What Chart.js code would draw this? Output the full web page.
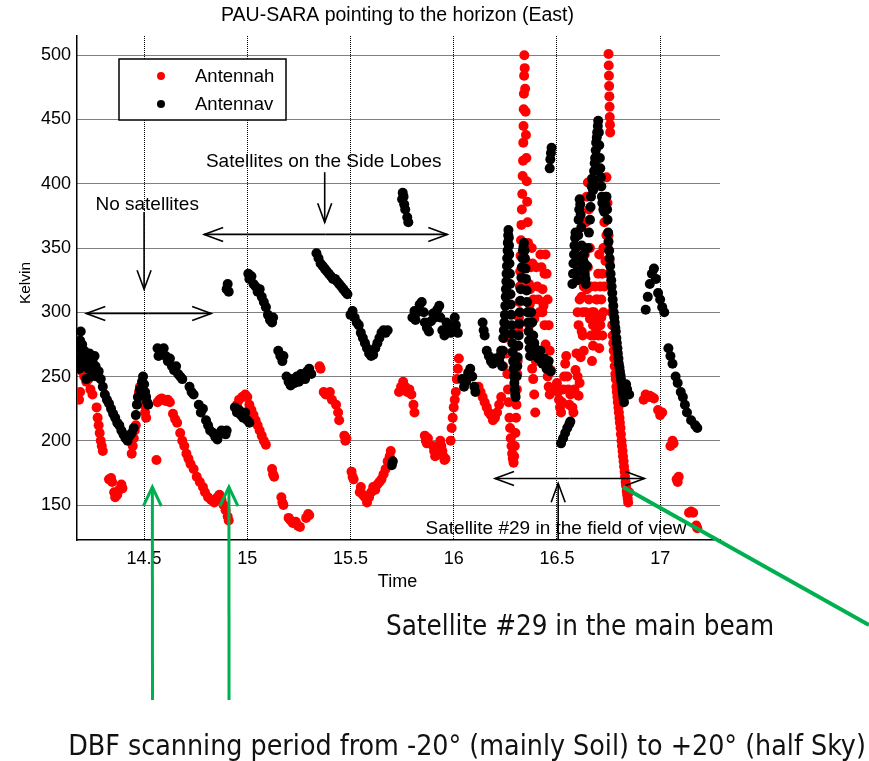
<!DOCTYPE html>
<html>
<head>
<meta charset="utf-8">
<script src="https://cdn.jsdelivr.net/npm/chart.js@4.4.0/dist/chart.umd.min.js"></script>
<style>
  html, body { margin: 0; padding: 0; background: #fff; }
</style>
</head>
<body>
<canvas id="grafico" width="869" height="761"></canvas>
<script>
// tempo (horas) e temperatura (Kelvin)
const antennah = [
  [14.185,232],[14.19,238],[14.2,254],[14.205,258],[14.21,250],[14.22,246],[14.23,248],[14.24,240],[14.25,236],
  [14.27,226],[14.275,218],[14.28,212],[14.285,206],[14.29,200],[14.295,196],[14.3,192],
  [14.33,170],[14.34,171],[14.345,168],[14.355,160],[14.36,156],[14.37,158],[14.38,162],[14.39,166],[14.395,163],
  [14.44,190],[14.445,196],[14.45,202],[14.455,208],[14.46,212],[14.475,238],[14.48,242],[14.49,234],[14.5,228],[14.505,222],[14.51,218],
  [14.56,185],
  [14.565,230],[14.575,232],[14.585,233],[14.595,232],[14.605,231],[14.615,232],[14.625,230],[14.64,221],[14.65,217],[14.66,214],
  [14.675,206],[14.685,200],[14.695,196],[14.705,190],[14.715,186],[14.725,182],[14.74,178],[14.755,172],[14.77,168],[14.785,164],
  [14.795,160],[14.81,156],[14.825,154],[14.84,152],[14.855,156],[14.865,158],[14.875,154],[14.885,150],[14.895,146],[14.905,141],[14.91,138],
  [14.95,228],[14.96,232],[14.975,234],[14.99,236],[15.0,234],[15.01,228],[15.02,224],[15.03,220],[15.04,216],[15.05,212],[15.06,208],
  [15.07,204],[15.08,200],[15.09,197],
  [15.12,178],[15.125,174],[15.13,172],[15.165,156],[15.17,152],[15.175,150],[15.2,140],[15.21,138],[15.22,136],[15.235,137],
  [15.245,134],[15.255,133],[15.285,140],[15.295,143],[15.3,142],
  [15.35,258],[15.355,256],[15.37,238],[15.38,236],[15.39,236],[15.4,238],[15.41,232],[15.43,228],[15.44,222],[15.445,216],
  [15.47,204],[15.475,200],[15.48,202],[15.505,176],[15.51,172],[15.515,170],
  [15.545,160],[15.55,164],[15.56,158],[15.57,156],[15.58,152],[15.59,156],[15.6,160],[15.61,164],[15.62,162],[15.63,166],
  [15.64,168],[15.65,170],[15.66,174],[15.67,178],[15.68,184],[15.69,188],[15.695,192],
  [15.735,238],[15.745,242],[15.755,246],[15.765,242],[15.775,238],[15.785,240],[15.795,236],[15.805,228],[15.81,222],
  [15.86,204],[15.865,200],[15.87,198],[15.875,202],[15.9,196],[15.905,192],[15.91,188],[15.935,200],[15.94,196],[15.945,192],
  [15.95,188],[15.955,185],[15.96,186],
  [15.985,200],[15.99,210],[15.995,218],[16.0,226],[16.005,232],[16.01,238],[16.015,248],[16.02,256],[16.025,264],
  [16.12,242],[16.13,238],[16.14,234],[16.15,230],[16.16,226],[16.17,222],[16.18,220],[16.19,216],[16.2,218],[16.21,222],
  [16.22,228],[16.23,234],
  [16.24,258],[16.243,268],[16.246,280],[16.25,290],[16.253,282],[16.256,268],[16.26,252],[16.263,240],[16.266,230],
  [16.27,218],[16.273,210],[16.276,202],[16.28,196],[16.283,190],[16.286,186],[16.29,183],[16.293,188],[16.296,196],
  [16.299,206],[16.302,218],[16.304,228],[16.306,240],[16.308,252],[16.31,262],[16.312,274],[16.314,286],[16.316,296],
  [16.318,308],[16.32,320],[16.322,332],[16.324,344],[16.326,356],[16.328,368],[16.33,380],[16.332,392],[16.334,406],
  [16.336,418],[16.337,432],[16.338,445],[16.339,458],[16.34,470],[16.341,484],[16.342,500],[16.344,490],[16.346,474],
  [16.348,456],[16.35,438],[16.352,420],[16.354,402],[16.356,386],[16.358,370],[16.36,354],[16.362,338],[16.365,322],
  [16.368,306],[16.371,292],[16.374,278],[16.377,266],[16.38,256],[16.385,248],[16.39,236],[16.395,222],
  [16.362,300],[16.366,290],[16.37,318],[16.374,335],[16.378,350],[16.382,338],[16.386,310],[16.39,295],[16.394,270],[16.398,262],
  [16.4,335],[16.405,320],[16.41,310],[16.415,300],[16.42,345],[16.425,335],[16.43,318],[16.435,305],[16.44,290],
  [16.445,275],[16.45,262],[16.455,250],[16.46,242],[16.465,236],[16.43,300],[16.44,330],[16.445,345],[16.45,330],
  [16.455,310],[16.46,290],[16.465,270],[16.47,255],[16.475,240],
  [16.5,245],[16.505,238],[16.51,232],[16.515,226],[16.52,222],[16.525,230],[16.53,240],[16.535,250],[16.54,260],
  [16.545,266],[16.55,250],[16.555,240],[16.56,228],[16.565,236],
  [16.575,226],[16.58,222],[16.585,240],[16.59,255],[16.595,268],[16.6,250],[16.605,235],[16.61,245],[16.615,265],[16.62,285],
  [16.625,300],[16.63,320],[16.635,345],[16.64,370],[16.645,390],[16.65,401],[16.655,380],[16.66,350],[16.665,320],
  [16.67,300],[16.675,290],[16.68,300],[16.685,320],[16.69,310],[16.695,295],[16.7,282],[16.705,272],[16.71,290],
  [16.715,310],[16.72,330],[16.725,350],[16.73,370],[16.735,390],[16.74,405],[16.745,385],[16.75,360],[16.755,340],
  [16.6,300],[16.605,290],[16.61,310],[16.615,328],[16.62,312],[16.625,282],[16.63,270],[16.64,300],[16.645,318],
  [16.65,335],[16.655,310],[16.66,295],[16.665,282],[16.67,262],[16.675,274],[16.68,282],[16.685,290],[16.69,285],
  [16.695,310],[16.7,330],[16.705,345],[16.71,320],[16.715,296],[16.72,282],[16.725,300],[16.73,320],[16.735,340],
  [16.74,360],[16.745,352],[16.75,330],
  [16.75,501],[16.751,492],[16.752,484],[16.753,476],[16.754,468],[16.755,460],[16.756,452],[16.757,446],[16.758,440],
  [16.762,320],[16.765,300],[16.768,290],[16.77,282],[16.773,276],[16.775,270],[16.778,264],[16.78,258],[16.783,252],
  [16.785,248],[16.788,242],[16.79,238],[16.793,234],[16.795,230],[16.798,226],[16.8,222],[16.803,218],[16.805,214],
  [16.808,210],[16.81,205],[16.813,200],[16.815,196],[16.818,192],[16.82,188],[16.823,184],[16.825,180],[16.828,176],
  [16.83,172],[16.833,168],[16.835,165],[16.838,161],[16.84,158],[16.843,155],[16.845,152],[16.85,160],
  [16.92,232],[16.93,236],[16.94,234],[16.95,235],[16.96,234],[16.97,233],[16.99,224],[17.0,220],[17.01,222],
  [17.05,196],[17.06,200],[17.065,198],[17.08,170],[17.085,168],[17.09,172],
  [17.14,144],[17.15,145],[17.16,144],[17.175,134],[17.18,132]
];

const antennav = [
  [14.18,262],[14.183,272],[14.186,256],[14.19,278],[14.193,285],[14.197,266],[14.2,275],[14.205,258],[14.21,270],
  [14.215,262],[14.22,248],[14.225,264],[14.23,256],[14.235,268],[14.24,260],[14.245,250],[14.25,262],[14.255,254],
  [14.26,266],[14.265,258],[14.27,250],[14.28,254],[14.29,248],[14.3,242],[14.31,236],[14.32,232],[14.33,229],
  [14.34,225],[14.35,221],[14.36,218],[14.37,214],[14.38,212],[14.39,208],[14.4,205],[14.41,202],[14.42,200],
  [14.43,204],[14.44,206],[14.45,210],
  [14.46,220],[14.465,228],[14.47,234],[14.48,240],[14.49,246],[14.495,250],[14.5,244],[14.505,238],[14.51,234],[14.515,230],[14.52,228],
  [14.565,272],[14.57,266],[14.575,270],[14.585,268],[14.595,272],[14.605,266],[14.615,262],[14.625,264],[14.635,258],
  [14.645,255],[14.655,258],[14.665,252],[14.675,250],[14.685,248],[14.72,242],[14.73,238],[14.74,236],[14.765,228],
  [14.775,222],[14.785,225],[14.8,216],[14.81,212],[14.82,208],[14.835,206],[14.845,203],[14.855,201],[14.865,205],
  [14.875,208],[14.885,206],[14.895,205],[14.9,208],
  [14.9,318],[14.905,322],[14.91,316],
  [14.94,226],[14.95,222],[14.96,224],[14.97,220],[14.98,218],[14.99,222],[15.0,216],[15.01,214],
  [15.005,330],[15.01,326],[15.02,328],[15.03,322],[15.04,320],[15.05,316],[15.06,318],[15.07,312],[15.08,308],
  [15.09,304],[15.1,298],[15.11,294],[15.12,292],[15.125,296],
  [15.15,270],[15.16,266],[15.17,262],[15.175,266],
  [15.19,250],[15.2,246],[15.21,243],[15.22,248],[15.23,245],[15.24,250],[15.25,246],[15.26,252],[15.28,248],
  [15.29,254],[15.3,256],[15.31,252],
  [15.335,346],[15.345,342],[15.355,338],[15.365,336],[15.375,334],[15.385,332],[15.395,330],[15.405,328],[15.415,326],
  [15.425,326],[15.435,324],[15.445,322],[15.455,320],[15.465,318],[15.475,316],[15.485,314],
  [15.5,298],[15.51,301],[15.52,296],[15.53,292],[15.54,290],[15.55,284],[15.56,280],[15.57,276],[15.58,272],
  [15.59,268],[15.6,266],[15.61,267],[15.62,272],[15.63,276],[15.64,280],[15.65,284],[15.66,286],[15.67,284],[15.68,286],
  [15.7,181],[15.705,184],
  [15.75,388],[15.753,393],[15.757,390],[15.76,384],[15.765,380],[15.775,374],[15.78,370],
  [15.8,296],[15.81,301],[15.815,294],[15.825,300],[15.835,306],[15.845,308],[15.855,300],[15.86,292],[15.87,288],
  [15.88,285],[15.89,293],[15.9,299],[15.91,296],[15.92,302],[15.93,305],[15.935,296],[15.945,286],[15.955,282],
  [15.965,292],[15.975,290],[15.985,284],[15.995,288],[16.005,296],[16.01,290],[16.02,284],
  [16.04,248],[16.05,242],[16.06,246],[16.07,253],[16.08,256],[16.09,250],[16.1,242],[16.105,238],
  [16.14,292],[16.145,286],[16.15,282],[16.16,270],[16.17,266],[16.18,262],[16.19,260],[16.2,264],
  [16.22,262],[16.225,266],[16.23,270],[16.235,258],[16.238,270],[16.24,280],[16.243,286],[16.245,292],[16.248,298],
  [16.25,305],[16.252,312],[16.253,318],[16.255,324],[16.256,330],[16.258,336],[16.259,342],[16.261,348],[16.262,354],
  [16.264,360],[16.265,364],[16.267,358],[16.268,352],[16.269,345],[16.27,338],[16.272,330],[16.273,322],[16.275,314],
  [16.276,306],[16.278,298],[16.28,290],[16.282,283],[16.284,276],[16.286,269],[16.288,262],[16.29,256],[16.292,250],
  [16.294,245],[16.296,240],[16.298,236],[16.3,234],
  [16.305,250],[16.308,258],[16.31,265],[16.313,274],[16.315,282],[16.318,291],[16.32,300],[16.323,309],[16.325,318],
  [16.328,327],[16.33,335],[16.333,342],[16.335,348],[16.338,351],[16.34,354],[16.343,348],[16.345,342],[16.348,334],
  [16.35,326],[16.353,317],[16.355,308],[16.358,300],[16.36,292],[16.363,285],[16.365,278],[16.368,272],[16.37,266],
  [16.375,300],[16.38,292],[16.385,282],[16.39,276],[16.395,272],[16.4,270],[16.405,266],[16.41,264],[16.415,266],
  [16.42,270],[16.425,264],[16.43,260],[16.435,262],[16.44,264],[16.445,260],[16.45,256],[16.455,258],[16.46,262],[16.47,254],
  [16.465,412],[16.468,419],[16.471,424],[16.474,428],
  [16.52,198],[16.53,202],[16.54,206],[16.55,210],[16.56,213],[16.565,215],
  [16.575,322],[16.578,330],[16.58,338],[16.583,345],[16.585,352],[16.588,358],[16.59,362],[16.593,350],[16.595,340],
  [16.598,332],[16.6,325],[16.603,360],[16.605,372],[16.608,380],[16.61,388],[16.613,384],[16.615,376],[16.618,366],
  [16.62,352],[16.623,344],[16.625,336],[16.628,340],[16.63,345],[16.633,338],[16.635,330],[16.638,326],[16.64,322],
  [16.645,336],[16.65,350],[16.655,362],[16.66,372],[16.663,382],[16.665,390],[16.668,398],[16.67,404],[16.673,398],
  [16.675,395],[16.678,402],[16.68,410],[16.683,416],[16.685,420],[16.688,426],[16.69,432],[16.693,436],[16.695,440],
  [16.698,445],[16.7,449],[16.703,440],[16.705,430],[16.708,420],[16.71,412],[16.713,405],[16.715,398],[16.718,390],
  [16.72,385],[16.725,380],[16.73,378],[16.735,384],[16.74,390],[16.743,380],[16.745,372],[16.748,362],[16.75,355],
  [16.753,348],[16.755,342],[16.758,336],[16.76,330],[16.763,325],[16.765,320],[16.768,315],[16.77,310],[16.773,305],
  [16.775,300],[16.778,296],[16.78,292],[16.783,288],[16.785,285],[16.788,280],[16.79,276],[16.793,272],[16.795,268],
  [16.798,264],[16.8,260],[16.803,257],[16.805,254],[16.808,251],[16.81,248],[16.813,245],[16.815,242],[16.818,239],
  [16.82,236],[16.823,233],[16.825,230],[16.83,238],[16.835,244],[16.84,240],[16.85,236],
  [16.93,302],[16.94,312],[16.95,322],[16.96,330],[16.97,334],[16.98,326],[16.99,315],[17.0,310],[17.01,304],[17.02,300],
  [17.04,272],[17.05,266],[17.06,260],[17.075,250],[17.085,245],[17.1,238],[17.11,234],[17.12,228],[17.13,222],
  [17.15,216],[17.17,212],[17.18,210]
];

const ticksTempo = [14.5, 15, 15.5, 16, 16.5, 17];
const ticksKelvin = [150, 200, 250, 300, 350, 400, 450, 500];

const titulo = "PAU-SARA pointing to the horizon (East)";
const verde = "#00b050";

function seta(ctx, x1, y1, x2, y2, comp, meia) {
    const ang = Math.atan2(y2 - y1, x2 - x1);
    ctx.beginPath();
    ctx.moveTo(x1, y1);
    ctx.lineTo(x2, y2);
    ctx.stroke();
    ctx.beginPath();
    ctx.moveTo(x2 - comp * Math.cos(ang) + meia * Math.sin(ang), y2 - comp * Math.sin(ang) - meia * Math.cos(ang));
    ctx.lineTo(x2, y2);
    ctx.lineTo(x2 - comp * Math.cos(ang) - meia * Math.sin(ang), y2 - comp * Math.sin(ang) + meia * Math.cos(ang));
    ctx.stroke();
}

const anotacoes = {
    id: "anotacoes",
    afterDraw(chart) {
        const ctx = chart.ctx;
        const sx = chart.scales.x, sy = chart.scales.y;
        const px = (v) => sx.getPixelForValue(v);
        const py = (v) => sy.getPixelForValue(v);
        const fonte = "Liberation Sans, Arial, sans-serif";

        ctx.save();
        ctx.fillStyle = "#000";
        ctx.textAlign = "center";
        ctx.textBaseline = "middle";

        ctx.font = "19.5px " + fonte;
        ctx.fillText(titulo, 397.5, 16);
        ctx.font = "18px " + fonte;
        ctx.fillText("Time", 397.5, 582);
        ctx.save();
        ctx.translate(26, 283);
        ctx.rotate(-Math.PI / 2);
        ctx.font = "15.5px " + fonte;
        ctx.fillText("Kelvin", 0, 0);
        ctx.restore();

        // legenda
        const ds = chart.data.datasets;
        ctx.fillStyle = "#fff";
        ctx.fillRect(119, 59, 167, 61);
        ctx.strokeStyle = "#000";
        ctx.lineWidth = 1.5;
        ctx.strokeRect(119, 59, 167, 61);
        ctx.font = "18.5px " + fonte;
        ctx.textAlign = "left";
        ds.forEach((d, i) => {
            const yy = 76 + i * 28;
            ctx.fillStyle = d.backgroundColor;
            ctx.beginPath();
            ctx.arc(161, yy, 4, 0, Math.PI * 2);
            ctx.fill();
            ctx.fillStyle = "#000";
            ctx.fillText(d.label, 195, yy + 1);
        });

        // textos e setas pretas
        ctx.font = "19px " + fonte;
        ctx.textAlign = "center";
        ctx.fillText("Satellites on the Side Lobes", px(15.37), py(417));
        ctx.fillText("No satellites", px(14.515), py(384));
        ctx.fillText("Satellite #29 in the field of view", 556, 529);

        ctx.strokeStyle = "#000";
        ctx.lineWidth = 1.6;
        seta(ctx, px(15.375), py(409), px(15.375), py(370), 19, 7);
        seta(ctx, px(14.5), py(378), px(14.5), py(318), 19, 7);
        seta(ctx, px(16.506), py(123), px(16.506), py(167), 19, 7);
        const duplas = [[14.22, 14.825, 299], [14.791, 15.969, 360.6], [16.2, 16.924, 170.6]];
        duplas.forEach(([a, b, v]) => {
            const m = (px(a) + px(b)) / 2;
            seta(ctx, m, py(v), px(a), py(v), 19, 7);
            seta(ctx, m, py(v), px(b), py(v), 19, 7);
        });

        // setas verdes
        ctx.strokeStyle = verde;
        ctx.lineWidth = 3;
        seta(ctx, 152.5, 700, px(14.54), py(164), 19, 9);
        seta(ctx, 229, 700, px(14.911), py(164), 19, 9);
        ctx.lineWidth = 4;
        ctx.beginPath();
        ctx.moveTo(px(16.82), py(164));
        ctx.lineTo(869, 625);
        ctx.stroke();

        ctx.fillStyle = "#111";
        ctx.font = "27.5px DejaVu Sans Condensed, DejaVu Sans, sans-serif";
        ctx.fillText("Satellite #29 in the main beam", 580, 628);
        ctx.font = "28.3px DejaVu Sans Condensed, DejaVu Sans, sans-serif";
        ctx.fillText("DBF scanning period from -20\u00b0 (mainly Soil) to +20\u00b0 (half Sky)", 467, 748);
        ctx.restore();
    }
};

const ctx = document.getElementById("grafico").getContext("2d");
const grafico = new Chart(ctx, {
    type: "scatter",
    data: {
        datasets: [
            {
                label: "Antennah",
                data: antennah.map(([t, k]) => ({ x: t, y: k })),
                backgroundColor: "#ff0000",
                borderWidth: 0,
                pointRadius: 5,
                order: 2,
            },
            {
                label: "Antennav",
                data: antennav.map(([t, k]) => ({ x: t, y: k })),
                backgroundColor: "#000000",
                borderWidth: 0,
                pointRadius: 5,
                order: 1,
            },
        ],
    },
    options: {
        responsive: false,
        animation: false,
        layout: { padding: { left: 0, right: 149, top: 36, bottom: 0 } },
        plugins: { legend: { display: false }, tooltip: { enabled: false } },
        scales: {
            x: {
                type: "linear",
                min: 14.175,
                max: 17.29,
                afterBuildTicks: (s) => { s.ticks = ticksTempo.map((v) => ({ value: v })); },
                afterFit: (s) => { s.height = 221; },
                ticks: {
                    color: "#000",
                    padding: 8,
                    font: { family: "Liberation Sans", size: 18 },
                    callback: (v) => String(v),
                },
                grid: { color: "#000", lineWidth: 1, drawTicks: false },
                border: { display: true, color: "#000", width: 1.5, dash: [1, 1] },
            },
            y: {
                type: "linear",
                min: 122.8,
                max: 515,
                afterBuildTicks: (s) => { s.ticks = ticksKelvin.map((v) => ({ value: v })); },
                afterFit: (s) => { s.width = 77; },
                ticks: {
                    color: "#000",
                    padding: 6,
                    font: { family: "Liberation Sans", size: 18 },
                },
                grid: { color: "#000", lineWidth: 1, drawTicks: false },
                border: { display: true, color: "#000", width: 1.5, dash: [1, 1] },
            },
        },
    },
    plugins: [anotacoes],
});
</script>
</body>
</html>
